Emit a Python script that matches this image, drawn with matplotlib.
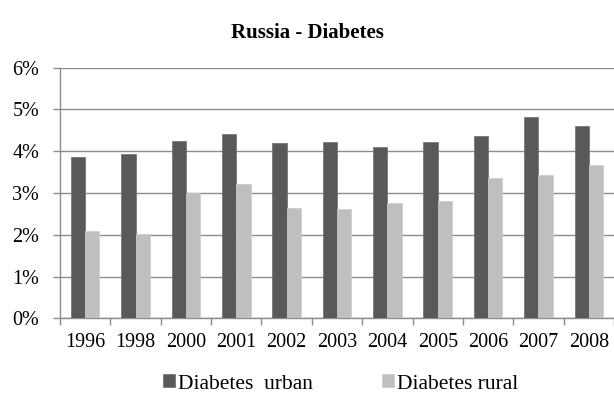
import matplotlib
matplotlib.use("Agg")
import matplotlib.pyplot as plt
import numpy as np
from matplotlib.ticker import FuncFormatter

years = ["1996", "1998", "2000", "2001", "2002", "2003", "2004", "2005", "2006", "2007", "2008"]
urban = [3.87, 3.93, 4.24, 4.41, 4.20, 4.23, 4.10, 4.21, 4.37, 4.82, 4.60]
rural = [2.10, 2.03, 3.00, 3.21, 2.63, 2.62, 2.76, 2.80, 3.36, 3.42, 3.68]

plt.rcParams["font.family"] = ["Liberation Serif", "DejaVu Serif"]

fig = plt.figure(figsize=(6.14, 3.98), dpi=100)
ax = fig.add_axes([60 / 614, 1 - 318.3 / 398, 1 - 60 / 614, (318.3 - 67.7) / 398])

x = np.arange(len(years))
w = 0.284
ax.bar(x - w / 2, urban, w, color="#595959", edgecolor="#6e6e6e", linewidth=0.5,
       label="Diabetes  urban", zorder=3)
ax.bar(x + w / 2, rural, w, color="#bfbfbf", edgecolor="#cccccc", linewidth=0.5,
       label="Diabetes rural", zorder=3)

ax.set_xlim(-0.5, len(years) - 0.5)
ax.set_ylim(0, 6)
ax.set_yticks(range(0, 7))
ax.yaxis.set_major_formatter(FuncFormatter(lambda v, _: f"{int(v)}%"))
ax.yaxis.grid(True, color="#8c8c8c", linewidth=1.0, zorder=0)

ax.set_xticks(np.arange(len(years) + 1) - 0.5, minor=False)
ax.set_xticklabels([])
ax.set_xticks(x, minor=True)
ax.set_xticklabels(years, minor=True)
ax.tick_params(axis="x", which="major", length=5, color="#8c8c8c", width=1)
ax.tick_params(axis="x", which="minor", length=0, labelsize=14.5, pad=10.5)
ax.tick_params(axis="y", length=5, color="#8c8c8c", width=1, labelsize=14.5, pad=10)

for s in ["top", "right"]:
    ax.spines[s].set_visible(False)
for s in ["left", "bottom"]:
    ax.spines[s].set_color("#8c8c8c")
    ax.spines[s].set_linewidth(1)

fig.text(0.5, 1 - 33 / 398, "Russia - Diabetes", ha="center", va="center",
         fontsize=15, fontweight="bold")

fig.legend(loc="center", bbox_to_anchor=(0.555, 1 - 384 / 398), ncol=2, frameon=False,
           fontsize=15.5, handlelength=0.55, handleheight=0.55, handletextpad=0.15,
           columnspacing=3.2)

fig.savefig("out.png", dpi=100)
